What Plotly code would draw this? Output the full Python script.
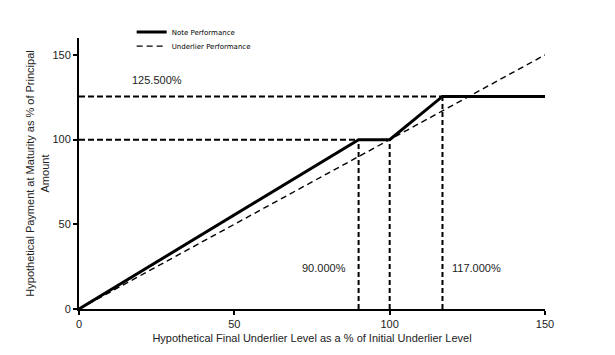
import plotly.graph_objects as go

note_x = [0, 90, 100, 117, 150]
note_y = [0, 100, 100, 125.5, 125.5]
under_x = [0, 150]
under_y = [0, 150]
# reference dashed guide lines: (x0, y0, x1, y1)
guides_h = [(0, 125.5, 117, 125.5), (0, 100, 90, 100)]
guides_v = [(90, 0, 90, 100), (100, 0, 100, 100), (117, 0, 117, 125.5)]
labels = ["125.500%", "90.000%", "117.000%"]
label_x = [25, 79, 128]
label_y = [135, 24, 24]

FONT = "Liberation Sans, Arial"
fig = go.Figure()
fig.add_trace(go.Scatter(x=note_x, y=note_y, mode="lines", name="Note Performance",
                         line=dict(color="black", width=3), legend="legend"))
fig.add_trace(go.Scatter(x=under_x, y=under_y, mode="lines", name="Underlier Performance",
                         line=dict(color="black", width=1.4, dash="6px,4px"), legend="legend2"))
for (x0, y0, x1, y1) in guides_h:
    fig.add_trace(go.Scatter(x=[x0, x1], y=[y0, y1], mode="lines", showlegend=False,
                             line=dict(color="black", width=2, dash="6px,3px"), hoverinfo="skip"))
for (x0, y0, x1, y1) in guides_v:
    fig.add_trace(go.Scatter(x=[x0, x1], y=[y0, y1], mode="lines", showlegend=False,
                             line=dict(color="black", width=2, dash="5px,3px"), hoverinfo="skip"))
for t, x, y in zip(labels, label_x, label_y):
    fig.add_annotation(x=x, y=y, text=t, showarrow=False,
                       font=dict(family=FONT, size=11, color="#222"))

axis_common = dict(showgrid=False, zeroline=False, showline=True, linecolor="black", linewidth=2,
                   ticks="outside", ticklen=4, tickwidth=1.5, tickcolor="black",
                   tickfont=dict(family=FONT, size=11, color="#222"))
fig.update_xaxes(range=[0, 150], tickvals=[0, 50, 100, 150],
                 title=dict(text="Hypothetical Final Underlier Level as a % of Initial Underlier Level",
                            font=dict(family=FONT, size=11, color="#222"), standoff=5),
                 **axis_common)
fig.update_yaxes(range=[0, 160], tickvals=[0, 50, 100, 150],
                 title=dict(text="Hypothetical Payment at Maturity as % of Principal<br>Amount",
                            font=dict(family=FONT, size=11, color="#222"), standoff=1),
                 **axis_common)
leg_common = dict(x=0.113, xanchor="left", yanchor="middle",
                  font=dict(family="DejaVu Sans", size=7, color="black"),
                  bgcolor="rgba(0,0,0,0)", itemwidth=30)
fig.update_layout(width=615, height=355, plot_bgcolor="white", paper_bgcolor="white",
                  margin=dict(l=71, r=78, t=30, b=54, autoexpand=False),
                  legend=dict(y=1.022, **leg_common),
                  legend2=dict(y=0.970, **leg_common),
                  showlegend=True)
fig.write_html("out.html")
